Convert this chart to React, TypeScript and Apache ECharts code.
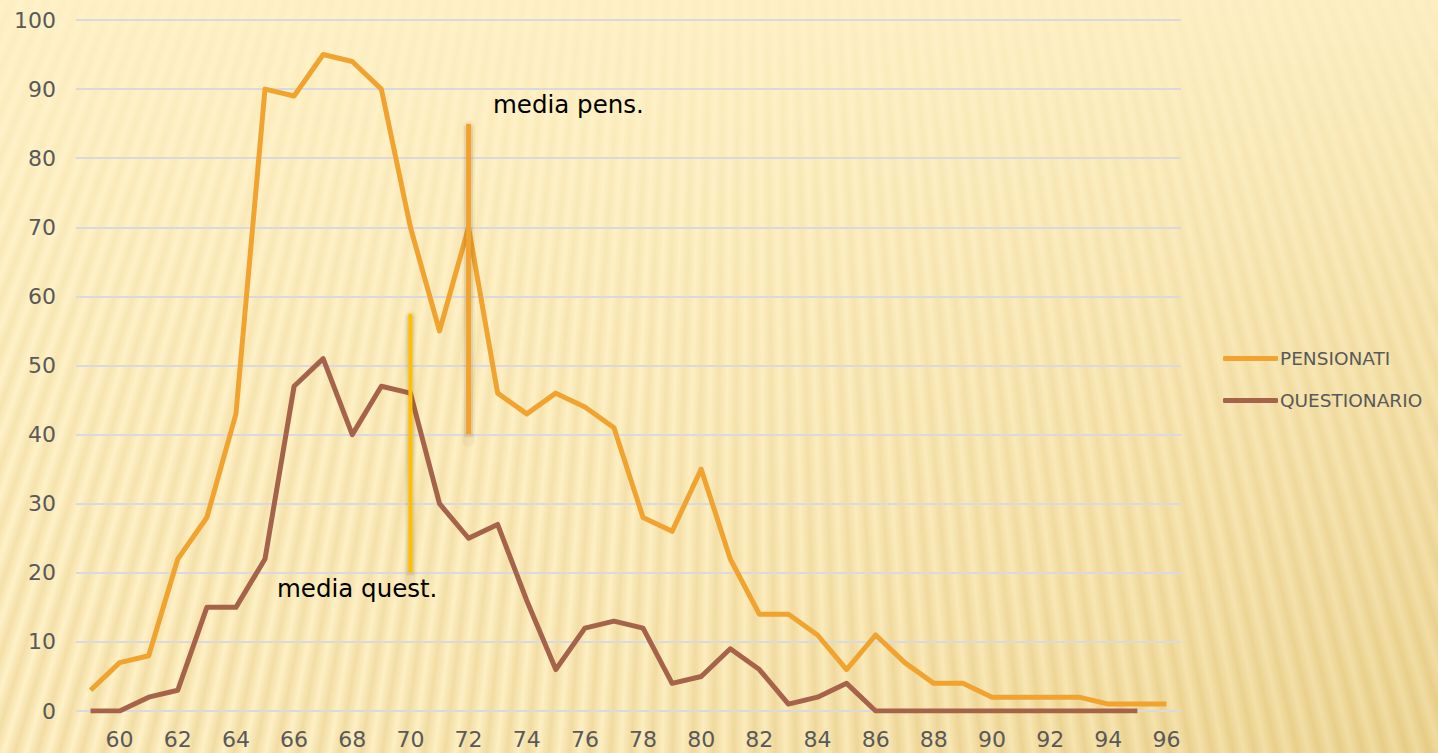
import React, { useEffect, useRef } from "react";
import * as echarts from "echarts";

const ages = [
  "59", "60", "61", "62", "63", "64", "65", "66", "67", "68", "69", "70", "71", "72", "73", "74", "75", "76", "77",
  "78", "79", "80", "81", "82", "83", "84", "85", "86", "87", "88", "89", "90", "91", "92", "93", "94", "95", "96",
];

const pensionati = [
  3, 7, 8, 22, 28, 43, 90, 89, 95, 94, 90, 70, 55, 70, 46, 43, 46, 44, 41,
  28, 26, 35, 22, 14, 14, 11, 6, 11, 7, 4, 4, 2, 2, 2, 2, 1, 1, 1,
];

const questionario = [
  0, 0, 2, 3, 15, 15, 22, 47, 51, 40, 47, 46, 30, 25, 27, 16, 6, 12, 13,
  12, 4, 5, 9, 6, 1, 2, 4, 0, 0, 0, 0, 0, 0, 0, 0, 0, 0, null,
];

const mediaPens = { age: "72", from: 40, to: 85 };
const mediaQuest = { age: "70", from: 20, to: 57.5 };

const yTicks = { min: 0, max: 100, interval: 10 };

const FONT = "DejaVu Sans";

export default function App() {
  const ref = useRef<HTMLDivElement>(null);

  useEffect(() => {
    if (!ref.current) return;
    const chart = echarts.init(ref.current, null, { renderer: "svg" });
    const pensIdx = ages.indexOf(mediaPens.age);
    const questIdx = ages.indexOf(mediaQuest.age);

    const vLine = (name: string, idx: number, m: { from: number; to: number }, color: string, width: number) => [
      {
        name: name + " shadow",
        type: "line",
        data: [
          [idx, m.to - 0.5],
          [idx, m.from - 0.8],
        ],
        symbol: "none",
        silent: true,
        lineStyle: { width: width + 8, color: "rgba(120,85,30,0.06)", cap: "round" },
        z: 4,
      },
      {
        name: name + " shadow2",
        type: "line",
        data: [
          [idx, m.to - 0.3],
          [idx, m.from - 0.4],
        ],
        symbol: "none",
        silent: true,
        lineStyle: { width: width + 4, color: "rgba(120,85,30,0.12)", cap: "butt" },
        z: 4,
      },
      {
        name,
        type: "line",
        data: [
          [idx, m.to],
          [idx, m.from],
        ],
        symbol: "none",
        silent: true,
        color,
        lineStyle: { width, color, cap: "butt" },
        z: 5,
      },
    ];

    chart.setOption({
      animation: false,
      backgroundColor: "transparent",
      textStyle: { fontFamily: FONT },
      grid: { left: 76, right: 257, top: 20, bottom: 42, containLabel: false },
      legend: {
        orient: "vertical",
        left: 1218,
        top: 344,
        icon: "roundRect",
        itemWidth: 55,
        itemHeight: 5,
        itemGap: 23,
        textStyle: { color: "#595959", fontSize: 18.5, fontFamily: FONT, padding: [0, 0, 0, -3] },
        data: ["PENSIONATI", "QUESTIONARIO"],
      },
      xAxis: {
        type: "category",
        data: ages,
        boundaryGap: true,
        axisLine: { show: false },
        axisTick: { show: false },
        axisLabel: {
          interval: (index: number, value: string) => Number(value) % 2 === 0,
          color: "#595959",
          fontSize: 22,
          fontFamily: FONT,
          margin: 17,
        },
        splitLine: { show: false },
      },
      yAxis: {
        type: "value",
        min: yTicks.min,
        max: yTicks.max,
        interval: yTicks.interval,
        axisLine: { show: false },
        axisTick: { show: false },
        axisLabel: { color: "#595959", fontSize: 22, fontFamily: FONT, margin: 20 },
        splitLine: { lineStyle: { color: "#D9D9DE", width: 2 } },
      },
      series: [
        {
          name: "QUESTIONARIO",
          type: "line",
          data: questionario,
          symbol: "none",
          color: "#A5634A",
          lineStyle: { width: 5, color: "#A5634A", join: "round" },
          z: 2,
        },
        {
          name: "PENSIONATI",
          type: "line",
          data: pensionati,
          symbol: "none",
          color: "#F0A32F",
          lineStyle: { width: 5, color: "#F0A32F", join: "round" },
          z: 3,
        },
        ...vLine("media quest.", questIdx, mediaQuest, "#FFC000", 4),
        ...vLine("media pens.", pensIdx, mediaPens, "#F0A32F", 5),
      ],
      graphic: [
        {
          type: "text",
          left: 493,
          top: 92,
          style: { text: "media pens.", fill: "#000", fontSize: 24.5, fontFamily: FONT },
          z: 10,
        },
        {
          type: "text",
          left: 277,
          top: 576,
          style: { text: "media quest.", fill: "#000", fontSize: 24.5, fontFamily: FONT },
          z: 10,
        },
      ],
    });
    return () => chart.dispose();
  }, []);

  const bg = [
    "linear-gradient(to bottom, rgba(255,242,200,0.85) 0%, rgba(255,242,200,0.4) 45%, rgba(255,242,200,0) 100%)",
    "repeating-conic-gradient(from 170deg at 52% -1700px, rgba(205,160,60,0) 0deg, rgba(205,160,60,0.13) 0.12deg, rgba(205,160,60,0.26) 0.24deg, rgba(205,160,60,0.13) 0.36deg, rgba(205,160,60,0) 0.48deg)",
    "linear-gradient(100deg, #FFF2C8 0%, #FDEFC2 45%, #F6E4AE 78%, #EFDA9E 100%)",
  ].join(", ");

  return (
    <div
      style={{
        position: "fixed",
        left: 0,
        top: 0,
        width: 1438,
        height: 753,
        background: bg,
      }}
    >
      <div ref={ref} style={{ width: 1438, height: 753 }} />
    </div>
  );
}
